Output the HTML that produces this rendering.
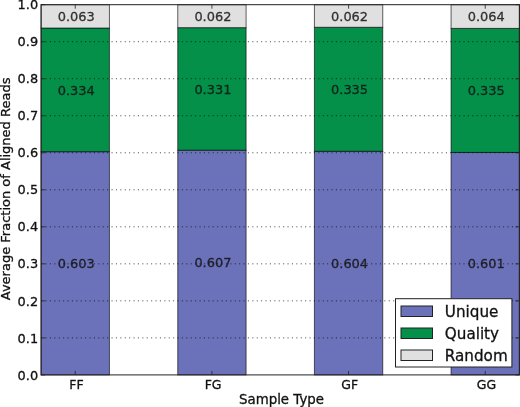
<!DOCTYPE html><html><head><meta charset="utf-8"><title>chart</title><style>html,body{margin:0;padding:0;background:#fff}svg{display:block;will-change:transform}text{font-family:"DejaVu Sans","Liberation Sans",sans-serif;fill:#111;stroke:#111;stroke-width:0.3px}</style></head><body>
<svg width="520" height="407" viewBox="0 0 520 407">
<rect width="520" height="407" fill="#fff"/>
<rect x="41.10" y="151.67" width="68.33" height="223.23" fill="#6b72b9" stroke="#000" stroke-opacity="0.62" stroke-width="1"/>
<rect x="41.10" y="28.02" width="68.33" height="123.65" fill="#05904a" stroke="#000" stroke-opacity="0.62" stroke-width="1"/>
<rect x="41.10" y="4.70" width="68.33" height="23.32" fill="#e0e0e0" stroke="#000" stroke-opacity="0.62" stroke-width="1"/>
<rect x="177.76" y="150.19" width="68.33" height="224.71" fill="#6b72b9" stroke="#000" stroke-opacity="0.62" stroke-width="1"/>
<rect x="177.76" y="27.65" width="68.33" height="122.54" fill="#05904a" stroke="#000" stroke-opacity="0.62" stroke-width="1"/>
<rect x="177.76" y="4.70" width="68.33" height="22.95" fill="#e0e0e0" stroke="#000" stroke-opacity="0.62" stroke-width="1"/>
<rect x="314.41" y="151.30" width="68.33" height="223.60" fill="#6b72b9" stroke="#000" stroke-opacity="0.62" stroke-width="1"/>
<rect x="314.41" y="27.28" width="68.33" height="124.02" fill="#05904a" stroke="#000" stroke-opacity="0.62" stroke-width="1"/>
<rect x="314.41" y="4.70" width="68.33" height="22.58" fill="#e0e0e0" stroke="#000" stroke-opacity="0.62" stroke-width="1"/>
<rect x="451.07" y="152.41" width="68.33" height="222.49" fill="#6b72b9" stroke="#000" stroke-opacity="0.62" stroke-width="1"/>
<rect x="451.07" y="28.39" width="68.33" height="124.02" fill="#05904a" stroke="#000" stroke-opacity="0.62" stroke-width="1"/>
<rect x="451.07" y="4.70" width="68.33" height="23.69" fill="#e0e0e0" stroke="#000" stroke-opacity="0.62" stroke-width="1"/>
<line x1="41.1" x2="519.4" y1="337.88" y2="337.88" stroke="#000" stroke-opacity="0.68" stroke-width="1" stroke-dasharray="1.1 3.3"/>
<line x1="41.1" x2="519.4" y1="300.86" y2="300.86" stroke="#000" stroke-opacity="0.68" stroke-width="1" stroke-dasharray="1.1 3.3"/>
<line x1="41.1" x2="519.4" y1="263.84" y2="263.84" stroke="#000" stroke-opacity="0.68" stroke-width="1" stroke-dasharray="1.1 3.3"/>
<line x1="41.1" x2="519.4" y1="226.82" y2="226.82" stroke="#000" stroke-opacity="0.68" stroke-width="1" stroke-dasharray="1.1 3.3"/>
<line x1="41.1" x2="519.4" y1="189.80" y2="189.80" stroke="#000" stroke-opacity="0.68" stroke-width="1" stroke-dasharray="1.1 3.3"/>
<line x1="41.1" x2="519.4" y1="152.78" y2="152.78" stroke="#000" stroke-opacity="0.68" stroke-width="1" stroke-dasharray="1.1 3.3"/>
<line x1="41.1" x2="519.4" y1="115.76" y2="115.76" stroke="#000" stroke-opacity="0.68" stroke-width="1" stroke-dasharray="1.1 3.3"/>
<line x1="41.1" x2="519.4" y1="78.74" y2="78.74" stroke="#000" stroke-opacity="0.68" stroke-width="1" stroke-dasharray="1.1 3.3"/>
<line x1="41.1" x2="519.4" y1="41.72" y2="41.72" stroke="#000" stroke-opacity="0.68" stroke-width="1" stroke-dasharray="1.1 3.3"/>
<rect x="41.1" y="4.7" width="478.29999999999995" height="370.2" fill="none" stroke="#222" stroke-width="1"/>
<line x1="41.1" x2="45.1" y1="374.90" y2="374.90" stroke="#222" stroke-width="0.8"/>
<line x1="519.4" x2="515.4" y1="374.90" y2="374.90" stroke="#222" stroke-width="0.8"/>
<text x="38.1" y="379.55" font-size="12.9" text-anchor="end">0.0</text>
<line x1="41.1" x2="45.1" y1="337.88" y2="337.88" stroke="#222" stroke-width="0.8"/>
<line x1="519.4" x2="515.4" y1="337.88" y2="337.88" stroke="#222" stroke-width="0.8"/>
<text x="38.1" y="342.53" font-size="12.9" text-anchor="end">0.1</text>
<line x1="41.1" x2="45.1" y1="300.86" y2="300.86" stroke="#222" stroke-width="0.8"/>
<line x1="519.4" x2="515.4" y1="300.86" y2="300.86" stroke="#222" stroke-width="0.8"/>
<text x="38.1" y="305.51" font-size="12.9" text-anchor="end">0.2</text>
<line x1="41.1" x2="45.1" y1="263.84" y2="263.84" stroke="#222" stroke-width="0.8"/>
<line x1="519.4" x2="515.4" y1="263.84" y2="263.84" stroke="#222" stroke-width="0.8"/>
<text x="38.1" y="268.49" font-size="12.9" text-anchor="end">0.3</text>
<line x1="41.1" x2="45.1" y1="226.82" y2="226.82" stroke="#222" stroke-width="0.8"/>
<line x1="519.4" x2="515.4" y1="226.82" y2="226.82" stroke="#222" stroke-width="0.8"/>
<text x="38.1" y="231.47" font-size="12.9" text-anchor="end">0.4</text>
<line x1="41.1" x2="45.1" y1="189.80" y2="189.80" stroke="#222" stroke-width="0.8"/>
<line x1="519.4" x2="515.4" y1="189.80" y2="189.80" stroke="#222" stroke-width="0.8"/>
<text x="38.1" y="194.45" font-size="12.9" text-anchor="end">0.5</text>
<line x1="41.1" x2="45.1" y1="152.78" y2="152.78" stroke="#222" stroke-width="0.8"/>
<line x1="519.4" x2="515.4" y1="152.78" y2="152.78" stroke="#222" stroke-width="0.8"/>
<text x="38.1" y="157.43" font-size="12.9" text-anchor="end">0.6</text>
<line x1="41.1" x2="45.1" y1="115.76" y2="115.76" stroke="#222" stroke-width="0.8"/>
<line x1="519.4" x2="515.4" y1="115.76" y2="115.76" stroke="#222" stroke-width="0.8"/>
<text x="38.1" y="120.41" font-size="12.9" text-anchor="end">0.7</text>
<line x1="41.1" x2="45.1" y1="78.74" y2="78.74" stroke="#222" stroke-width="0.8"/>
<line x1="519.4" x2="515.4" y1="78.74" y2="78.74" stroke="#222" stroke-width="0.8"/>
<text x="38.1" y="83.39" font-size="12.9" text-anchor="end">0.8</text>
<line x1="41.1" x2="45.1" y1="41.72" y2="41.72" stroke="#222" stroke-width="0.8"/>
<line x1="519.4" x2="515.4" y1="41.72" y2="41.72" stroke="#222" stroke-width="0.8"/>
<text x="38.1" y="46.37" font-size="12.9" text-anchor="end">0.9</text>
<line x1="41.1" x2="45.1" y1="4.70" y2="4.70" stroke="#222" stroke-width="0.8"/>
<line x1="519.4" x2="515.4" y1="4.70" y2="4.70" stroke="#222" stroke-width="0.8"/>
<text x="38.1" y="8.95" font-size="12.9" text-anchor="end">1.0</text>
<line x1="75.26" x2="75.26" y1="374.9" y2="370.9" stroke="#222" stroke-width="0.8"/>
<line x1="75.26" x2="75.26" y1="4.7" y2="8.7" stroke="#222" stroke-width="0.8"/>
<text x="76.46" y="388.80" font-size="12.5" text-anchor="middle">FF</text>
<text x="76.26" y="267.98" font-size="12.95" text-anchor="middle" fill-opacity="0.82" stroke-opacity="0.82">0.603</text>
<text x="76.26" y="94.55" font-size="12.95" text-anchor="middle" fill-opacity="0.82" stroke-opacity="0.82">0.334</text>
<text x="76.26" y="21.26" font-size="12.95" text-anchor="middle" fill-opacity="0.82" stroke-opacity="0.82">0.063</text>
<line x1="211.92" x2="211.92" y1="374.9" y2="370.9" stroke="#222" stroke-width="0.8"/>
<line x1="211.92" x2="211.92" y1="4.7" y2="8.7" stroke="#222" stroke-width="0.8"/>
<text x="213.12" y="388.80" font-size="12.5" text-anchor="middle">FG</text>
<text x="212.92" y="267.24" font-size="12.95" text-anchor="middle" fill-opacity="0.82" stroke-opacity="0.82">0.607</text>
<text x="212.92" y="93.62" font-size="12.95" text-anchor="middle" fill-opacity="0.82" stroke-opacity="0.82">0.331</text>
<text x="212.92" y="21.08" font-size="12.95" text-anchor="middle" fill-opacity="0.82" stroke-opacity="0.82">0.062</text>
<line x1="348.58" x2="348.58" y1="374.9" y2="370.9" stroke="#222" stroke-width="0.8"/>
<line x1="348.58" x2="348.58" y1="4.7" y2="8.7" stroke="#222" stroke-width="0.8"/>
<text x="349.78" y="388.80" font-size="12.5" text-anchor="middle">GF</text>
<text x="349.58" y="267.80" font-size="12.95" text-anchor="middle" fill-opacity="0.82" stroke-opacity="0.82">0.604</text>
<text x="349.58" y="93.99" font-size="12.95" text-anchor="middle" fill-opacity="0.82" stroke-opacity="0.82">0.335</text>
<text x="349.58" y="20.89" font-size="12.95" text-anchor="middle" fill-opacity="0.82" stroke-opacity="0.82">0.062</text>
<line x1="485.24" x2="485.24" y1="374.9" y2="370.9" stroke="#222" stroke-width="0.8"/>
<line x1="485.24" x2="485.24" y1="4.7" y2="8.7" stroke="#222" stroke-width="0.8"/>
<text x="486.44" y="388.80" font-size="12.5" text-anchor="middle">GG</text>
<text x="486.24" y="268.35" font-size="12.95" text-anchor="middle" fill-opacity="0.82" stroke-opacity="0.82">0.601</text>
<text x="486.24" y="95.10" font-size="12.95" text-anchor="middle" fill-opacity="0.82" stroke-opacity="0.82">0.335</text>
<text x="486.24" y="21.45" font-size="12.95" text-anchor="middle" fill-opacity="0.82" stroke-opacity="0.82">0.064</text>
<text x="281.5" y="404.2" font-size="13.35" text-anchor="middle">Sample Type</text>
<text transform="translate(9.9,188.90) rotate(-90)" font-size="13" text-anchor="middle">Average Fraction of Aligned Reads</text>
<rect x="395.5" y="298.7" width="116.4" height="68.3" fill="#fff" stroke="#222" stroke-width="1"/>
<rect x="401.0" y="306" width="31.5" height="10.5" fill="#6b72b9" stroke="#222" stroke-width="1"/>
<text x="444.8" y="317" font-size="15.2">Unique</text>
<rect x="401.0" y="328" width="31.5" height="10.5" fill="#05904a" stroke="#222" stroke-width="1"/>
<text x="444.8" y="339" font-size="15.2">Quality</text>
<rect x="401.0" y="350" width="31.5" height="10.5" fill="#e0e0e0" stroke="#222" stroke-width="1"/>
<text x="444.8" y="361" font-size="15.2">Random</text>
</svg></body></html>
